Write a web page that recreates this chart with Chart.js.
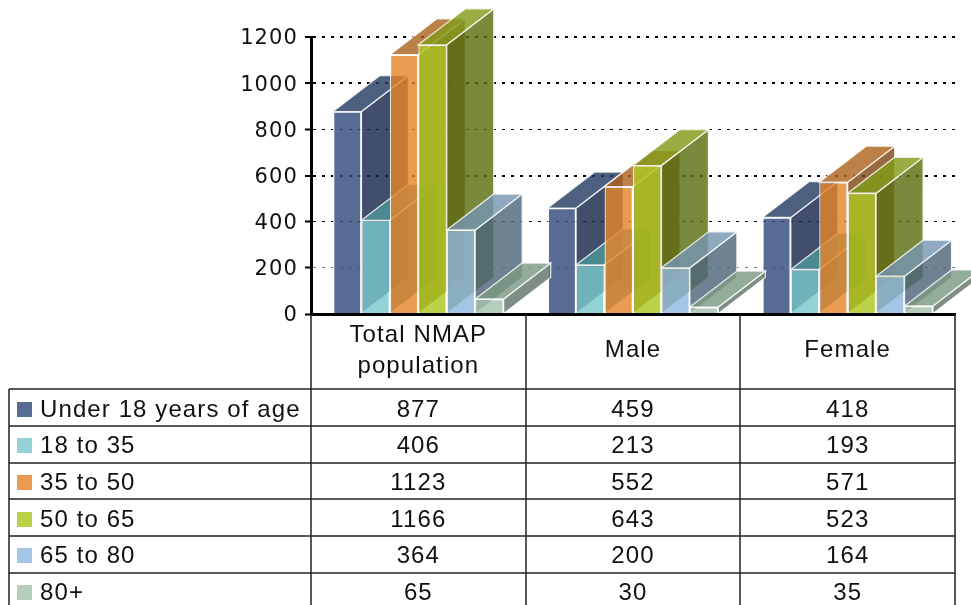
<!DOCTYPE html>
<html>
<head>
<meta charset="utf-8">
<style>html,body{margin:0;padding:0;background:#fff}canvas{display:block}</style>
<script src="https://cdn.jsdelivr.net/npm/chart.js@4"></script>
</head>
<body>
<canvas id="c" width="971" height="605"></canvas>
<script>
const categories = [["Total NMAP", "population"], ["Male"], ["Female"]];
const seriesNames = ["Under 18 years of age", "18 to 35", "35 to 50", "50 to 65", "65 to 80", "80+"];
const under18 = [877, 459, 418];
const from18to35 = [406, 213, 193];
const from35to50 = [1123, 552, 571];
const from50to65 = [1166, 643, 523];
const from65to80 = [364, 200, 164];
const over80 = [65, 30, 35];
const seriesValues = [under18, from18to35, from35to50, from50to65, from65to80, over80];
const yTicks = [0, 200, 400, 600, 800, 1000, 1200];
const frontColors = ["#586B95", "#92D2D4", "#E99B50", "#BAD148", "#A4C5E5", "#B5CDBB"];
const sideColors = ["#424F6C", "#5E9599", "#976A40", "#788A3C", "#6E8292", "#7F8E84"];
const topColors = ["#4E6080", "#6FA8AB", "#BC8049", "#99AD42", "#8FA9C0", "#94AC9A"];

const AREA_LEFT = 311, AREA_TOP = 37, AREA_BOTTOM = 314, AREA_RIGHT = 955;
const DEPTH_X = 47, DEPTH_Y = 36, GLASS = 0.82;
const TABLE_LEFT = 9, COL_LINES = [311, 526, 740, 955];
const ROW_LINES = [389, 426, 463, 499, 536, 573];
const ROW_CENTERS = [409, 445, 482, 519, 555, 592];
const TEXT_FONT = '24px "Liberation Sans"';

function glass(hex) {
  const n = parseInt(hex.slice(1), 16);
  const f = v => Math.max(0, Math.round((v - 255 * (1 - GLASS)) / GLASS));
  return `rgba(${f(n >> 16)},${f((n >> 8) & 255)},${f(n & 255)},${GLASS})`;
}

function face(ctx, pts, fill) {
  ctx.beginPath();
  pts.forEach((p, i) => i ? ctx.lineTo(p[0], p[1]) : ctx.moveTo(p[0], p[1]));
  ctx.closePath();
  ctx.fillStyle = fill;
  ctx.fill();
  ctx.strokeStyle = "rgba(255,255,255,0.8)";
  ctx.lineWidth = 1.3;
  ctx.stroke();
}

const prism = {
  id: "prism",
  beforeDraw(chart) {
    chart.ctx.letterSpacing = "1.1px";
    const y = chart.scales.y;
    if (!y._shifted) {
      const orig = y.drawLabels.bind(y);
      y.drawLabels = area => {
        chart.ctx.save();
        chart.ctx.translate(0, 2);
        orig(area);
        chart.ctx.restore();
      };
      y._shifted = true;
    }
  },
  beforeDatasetDraw() { return false; },
  beforeDatasetsDraw(chart) {
    const ctx = chart.ctx;
    ctx.save();
    chart.data.datasets.forEach((ds, i) => {
      chart.getDatasetMeta(i).data.forEach(el => {
        const { x, y, base, width } = el.getProps(["x", "y", "base", "width"], true);
        const l = x - width / 2, r = x + width / 2;
        face(ctx, [[r, y], [r + DEPTH_X, y - DEPTH_Y], [r + DEPTH_X, base - DEPTH_Y], [r, base]], glass(sideColors[i]));
        face(ctx, [[l, y], [l + DEPTH_X, y - DEPTH_Y], [r + DEPTH_X, y - DEPTH_Y], [r, y]], glass(topColors[i]));
        el.draw(ctx);
      });
    });
    ctx.restore();
  },
  afterDraw(chart) {
    const ctx = chart.ctx;
    ctx.save();
    ctx.strokeStyle = "#222";
    ctx.lineWidth = 1.5;
    ctx.beginPath();
    COL_LINES.forEach(x => { ctx.moveTo(x, AREA_BOTTOM); ctx.lineTo(x, 605); });
    ctx.moveTo(TABLE_LEFT, ROW_LINES[0]); ctx.lineTo(TABLE_LEFT, 605);
    ROW_LINES.forEach((y, i) => { ctx.moveTo(TABLE_LEFT, y); ctx.lineTo(AREA_RIGHT, y); });
    ctx.stroke();
    ctx.font = TEXT_FONT;
    ctx.letterSpacing = "1.1px";
    ctx.textBaseline = "middle";
    const centers = chart.scales.x.ticks.map((t, j) => chart.scales.x.getPixelForTick(j));
    seriesNames.forEach((name, i) => {
      const cy = ROW_CENTERS[i];
      ctx.fillStyle = frontColors[i];
      ctx.fillRect(17, cy - 7, 15, 15);
      ctx.fillStyle = "#111";
      ctx.textAlign = "left";
      ctx.fillText(name, 40, cy + 1);
      ctx.textAlign = "center";
      seriesValues[i].forEach((v, j) => ctx.fillText(String(v), centers[j], cy + 1));
    });
    ctx.restore();
  }
};

new Chart(document.getElementById("c"), {
  type: "bar",
  data: {
    labels: categories,
    datasets: seriesNames.map((name, i) => ({
      label: name,
      data: seriesValues[i],
      backgroundColor: glass(frontColors[i]),
      borderColor: "rgba(255,255,255,0.85)",
      borderWidth: 1.3,
      categoryPercentage: 0.795,
      barPercentage: 1
    }))
  },
  options: {
    responsive: false,
    animation: false,
    layout: { padding: { top: AREA_TOP, right: 971 - AREA_RIGHT, left: 0, bottom: 0 } },
    plugins: { legend: { display: false }, tooltip: { enabled: false }, title: { display: false } },
    scales: {
      x: {
        afterFit(s) { s.height = 605 - AREA_BOTTOM; },
        grid: { display: false, drawTicks: false },
        border: { color: "#000", width: 3, z: 2 },
        ticks: {
          color: "#111", padding: 21, crossAlign: "center", autoSkip: false, maxRotation: 0, minRotation: 0,
          font: { family: "Liberation Sans", size: 24, lineHeight: 1.3 }
        }
      },
      y: {
        min: 0, max: 1200,
        afterFit(s) { s.width = AREA_LEFT; },
        afterBuildTicks(s) { s.ticks = yTicks.map(value => ({ value })); },
        border: { color: "#000", width: 3, z: 2, dash: [3, 6] },
        grid: {
          color: c => (c.tick && c.tick.value === 200) ? "#777" : "#000",
          lineWidth: c => (c.tick && [600, 1000, 1200].includes(c.tick.value)) ? 2 : 1,
          tickColor: "#000", tickWidth: 2, tickLength: 6, tickBorderDash: []
        },
        ticks: {
          color: "#111", padding: 7,
          callback: v => String(v),
          font: { family: "DejaVu Sans", size: 21 }
        }
      }
    }
  },
  plugins: [prism]
});
</script>
</body>
</html>
